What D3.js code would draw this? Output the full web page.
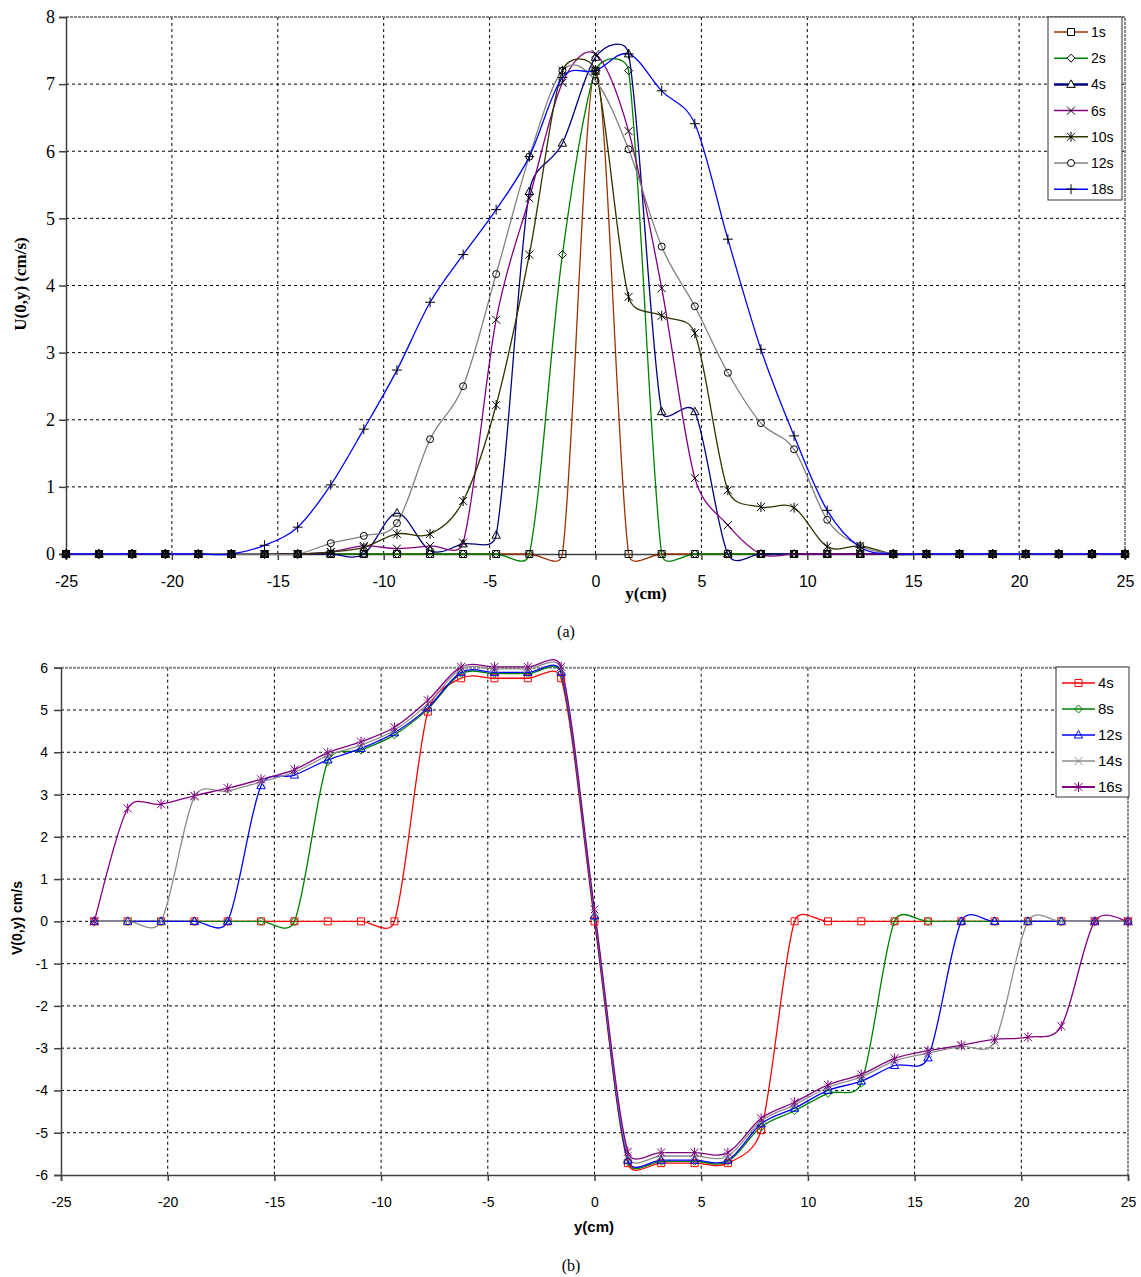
<!DOCTYPE html>
<html>
<head>
<meta charset="utf-8">
<title>U(0,y) and V(0,y) profiles</title>
<style>
body { margin: 0; background: #fff; }
.grid line { stroke: #000; stroke-width: 1; stroke-dasharray: 3,3; }
.frame { stroke: #888; stroke-width: 2; stroke-dasharray: 3,1; fill: none; }
.axis path, .axis line { stroke: #404040; stroke-width: 1.5; }
path.curve { fill: none; stroke-width: 1.3; }
</style>
</head>
<body>
<script src="https://d3js.org/d3.v7.min.js"></script>
<script>

// ---- panel (a): U(0,y) ----
var yCmA = [-25, -23.44, -21.875, -20.31, -18.75, -17.19, -15.625, -14.06, -12.5, -10.94,
            -9.375, -7.81, -6.25, -4.69, -3.125, -1.5625, 0, 1.5625, 3.125, 4.69, 6.25,
            7.81, 9.375, 10.94, 12.5, 14.06, 15.625, 17.19, 18.75, 20.31, 21.875, 23.44, 25];

var u1s  = [0,0,0,0,0,0,0,0,0,0, 0,0,0,0,0,0,7.2,0,0,0,0, 0,0,0,0,0,0,0,0,0,0,0,0];
var u2s  = [0,0,0,0,0,0,0,0,0,0, 0,0,0,0,0,4.46,7.2,7.2,0,0,0, 0,0,0,0,0,0,0,0,0,0,0,0];
var u4s  = [0,0,0,0,0,0,0,0,0,0, 0.61,0.05,0.15,0.28,5.40,6.12,7.4,7.45,2.12,2.12,0, 0,0,0,0,0,0,0,0,0,0,0,0];
var u6s  = [0,0,0,0,0,0,0,0,0.03,0.12, 0.08,0.12,0.17,3.49,5.30,7.02,7.45,6.30,3.96,1.13,0.43, 0,0,0,0,0,0,0,0,0,0,0,0];
var u10s = [0,0,0,0,0,0,0,0,0.03,0.10, 0.30,0.30,0.79,2.22,4.46,7.2,7.2,3.83,3.55,3.29,0.95, 0.70,0.69,0.11,0.12,0,0,0,0,0,0,0,0];
var u12s = [0,0,0,0,0,0,0,0,0.16,0.27, 0.46,1.71,2.50,4.17,5.92,7.2,7.05,6.03,4.58,3.69,2.70, 1.95,1.56,0.51,0.12,0,0,0,0,0,0,0,0];
var u18s = [0,0,0,0,0,0,0.13,0.40,1.03,1.86, 2.74,3.75,4.46,5.13,5.92,7.1,7.2,7.45,6.90,6.41,4.69, 3.05,1.76,0.65,0.10,0,0,0,0,0,0,0,0];

var namesA   = ["1s", "2s", "4s", "6s", "10s", "12s", "18s"];
var valuesA  = [u1s, u2s, u4s, u6s, u10s, u12s, u18s];
var colorsA  = ["#993300", "#008000", "#000080", "#800080", "#333300", "#808080", "#0000ff"];
var markersA = ["square", "diamond", "triangle", "x", "asterisk", "circle", "plus"];

// ---- panel (b): V(0,y) ----
var yCmB = [-23.44, -21.875, -20.31, -18.75, -17.19, -15.625, -14.06, -12.5, -10.94,
            -9.375, -7.81, -6.25, -4.69, -3.125, -1.5625, 0, 1.5625, 3.125, 4.69, 6.25,
            7.81, 9.375, 10.94, 12.5, 14.06, 15.625, 17.19, 18.75, 20.31, 21.875, 23.44, 25];

var v4s  = [0,0,0,0,0,0,0,0,0, 0,4.96,5.75,5.75,5.75,5.75,0, -5.72,-5.72,-5.72,-5.72,-4.94, 0,0,0,0,0,0,0,0,0,0,0];
var v8s  = [0,0,0,0,0,0,0,3.78,4.05, 4.41,5.02,5.86,5.86,5.86,5.86,0.10, -5.68,-5.68,-5.68,-5.68,-4.86, -4.48,-4.07,-3.83,0,0,0,0,0,0,0,0];
var v12s = [0,0,0,0,0,3.21,3.46,3.82,4.09, 4.46,5.05,5.89,5.89,5.89,5.89,0.13, -5.65,-5.65,-5.65,-5.65,-4.79, -4.42,-4.00,-3.78,-3.41,-3.23,0,0,0,0,0,0];
var v14s = [0,0,0,2.95,3.08,3.30,3.53,3.92,4.17, 4.52,5.15,5.97,5.97,5.97,5.97,0.20, -5.55,-5.55,-5.55,-5.55,-4.72, -4.34,-3.93,-3.68,-3.30,-3.12,-2.96,-2.85,0,0,0,0];
var v16s = [0,2.67,2.77,2.97,3.15,3.36,3.59,3.99,4.25, 4.59,5.23,6.02,6.02,6.02,6.02,0.28, -5.45,-5.47,-5.47,-5.47,-4.66, -4.28,-3.87,-3.62,-3.24,-3.06,-2.93,-2.79,-2.74,-2.48,0,0];

var namesB   = ["4s", "8s", "12s", "14s", "16s"];
var valuesB  = [v4s, v8s, v12s, v14s, v16s];
var colorsB  = ["#ff0000", "#008000", "#0000ff", "#8c8c8c", "#800080"];
var markersB = ["square", "diamond", "triangle", "x", "asterisk"];

var markerPaths = {
  square:   "M-3.5,-3.5H3.5V3.5H-3.5Z",
  diamond:  "M0,-4L4,0L0,4L-4,0Z",
  triangle: "M0,-4.5L4.2,3L-4.2,3Z",
  x:        "M-4,-4L4,4M-4,4L4,-4",
  asterisk: "M-4,-4L4,4M-4,4L4,-4M0,-5V5",
  circle:   "M3.5,0A3.5,3.5 0 1,1 -3.5,0A3.5,3.5 0 1,1 3.5,0",
  plus:     "M-5,0H5M0,-5V5"
};

var W = 1141, H = 1277;
var svg = d3.select("body").append("svg")
    .attr("width", W)
    .attr("height", H)
    .style("font-family", "'Liberation Sans', Arial, sans-serif");

// plain hyphen for negative tick labels, as in the original
var fmt = function(d) { return String(d); };

// spreadsheet-like smoothing: catmull-rom tangents, but the handles are
// capped to half of the segment so spikes don't swing far past the points
function smoothPath(pts) {
  var p = d3.path(), cap = 0.5;
  p.moveTo(pts[0][0], pts[0][1]);
  for (var i = 0; i < pts.length - 1; i++) {
    var p0 = pts[i - 1] || pts[i], p1 = pts[i], p2 = pts[i + 1], p3 = pts[i + 2] || pts[i + 1];
    var d12 = Math.hypot(p2[0] - p1[0], p2[1] - p1[1]);
    var t1 = [(p2[0] - p0[0]) / 6, (p2[1] - p0[1]) / 6];
    var t2 = [(p3[0] - p1[0]) / 6, (p3[1] - p1[1]) / 6];
    [t1, t2].forEach(function(t) {
      var len = Math.hypot(t[0], t[1]);
      if (len > cap * d12 && len > 0) { var k = cap * d12 / len; t[0] *= k; t[1] *= k; }
    });
    p.bezierCurveTo(p1[0] + t1[0], p1[1] + t1[1], p2[0] - t2[0], p2[1] - t2[1], p2[0], p2[1]);
  }
  return p.toString();
}

function drawPanel(cfg) {
  var x = d3.scaleLinear().domain([-25, 25]).range([cfg.left, cfg.right]);
  var y = d3.scaleLinear().domain(cfg.yDomain).range([cfg.bottom, cfg.top]);
  var g = svg.append("g");

  var yTicks = d3.range(cfg.yDomain[0], cfg.yDomain[1] + 1, 1);
  var xTicks = d3.range(-25, 26, 5);

  // grid
  var grid = g.append("g").attr("class", "grid");
  grid.selectAll("line.h")
    .data(yTicks.filter(function(d) { return d > cfg.yDomain[0] && d < cfg.yDomain[1] && d !== cfg.xAxisAt; }))
    .enter().append("line")
      .attr("x1", cfg.left).attr("x2", cfg.right)
      .attr("y1", function(d) { return y(d); }).attr("y2", function(d) { return y(d); });
  grid.selectAll("line.v")
    .data(xTicks.filter(function(d) { return d > -25 && d < 25; }))
    .enter().append("line")
      .attr("y1", cfg.top).attr("y2", cfg.bottom)
      .attr("x1", function(d) { return x(d); }).attr("x2", function(d) { return x(d); });

  // gray frame on top and right
  g.append("path").attr("class", "frame")
    .attr("d", "M" + cfg.left + "," + cfg.top + "H" + cfg.right + "V" + cfg.bottom);

  // left axis
  var yAxis = g.append("g").attr("class", "axis")
    .attr("transform", "translate(" + cfg.left + ",0)")
    .call(d3.axisLeft(y).tickValues(yTicks).tickSize(7).tickPadding(cfg.yPad).tickFormat(fmt));
  yAxis.selectAll("text")
    .style("font-family", cfg.yFont).style("font-size", cfg.yFontSize + "px").attr("fill", "#000");

  // x axis (at y = xAxisAt)
  var xAxis = g.append("g").attr("class", "axis")
    .attr("transform", "translate(0," + y(cfg.xAxisAt) + ")")
    .call(d3.axisBottom(x).tickValues(xTicks).tickSize(6).tickPadding(cfg.xPad).tickFormat(fmt));
  xAxis.selectAll("text")
    .style("font-family", "'Liberation Sans', Arial, sans-serif")
    .style("font-size", cfg.xFontSize + "px").attr("fill", "#000");

  // series
  cfg.values.forEach(function(vals, i) {
    var pts = vals.map(function(v, j) { return [x(cfg.xs[j]), y(v)]; });
    g.append("path").attr("class", "curve")
      .attr("d", smoothPath(pts))
      .attr("stroke", cfg.colors[i]);
  });
  cfg.values.forEach(function(vals, i) {
    var pts = vals.map(function(v, j) { return [cfg.xs[j], v]; });
    g.append("g").selectAll("path")
      .data(pts).enter().append("path")
        .attr("d", markerPaths[cfg.markers[i]])
        .attr("transform", function(d) { return "translate(" + x(d[0]) + "," + y(d[1]) + ")"; })
        .attr("fill", "none")
        .attr("stroke", cfg.markerColor || cfg.colors[i])
        .attr("stroke-width", 1);
  });

  // legend
  var lg = g.append("g");
  lg.append("rect")
    .attr("x", cfg.legend.x).attr("y", cfg.legend.y)
    .attr("width", cfg.legend.w).attr("height", cfg.legend.h)
    .attr("fill", "#fff").attr("stroke", "#333").attr("stroke-width", 1);
  cfg.names.forEach(function(name, i) {
    var ry = cfg.legend.y + cfg.legend.first + i * cfg.legend.step;
    var lx0 = cfg.legend.x + 6, lx1 = lx0 + cfg.legend.lineLen;
    lg.append("line")
      .attr("x1", lx0).attr("x2", lx1).attr("y1", ry).attr("y2", ry)
      .attr("stroke", cfg.colors[i]).attr("stroke-width", cfg.legend.lineW[i] || 1.5);
    lg.append("path")
      .attr("d", markerPaths[cfg.markers[i]])
      .attr("transform", "translate(" + ((lx0 + lx1) / 2) + "," + ry + ")")
      .attr("fill", cfg.markerColor ? "#fff" : "none")
      .attr("stroke", cfg.markerColor || cfg.colors[i]);
    lg.append("text")
      .attr("x", lx1 + 3).attr("y", ry + 5)
      .style("font-size", cfg.legend.font + "px")
      .text(name);
  });

  return { x: x, y: y };
}

var pa = drawPanel({
  left: 66, right: 1125, top: 17, bottom: 554,
  yDomain: [0, 8], xAxisAt: 0,
  yFont: "'Liberation Serif', 'Times New Roman', serif", yFontSize: 18, yPad: 4,
  xFontSize: 16, xPad: 16,
  xs: yCmA, values: valuesA, names: namesA, colors: colorsA, markers: markersA,
  markerColor: "#000",
  legend: { x: 1048, y: 17, w: 74, h: 183, first: 15, step: 26.2, lineLen: 34, font: 14,
            lineW: [1.5, 1.5, 2.5, 1.5, 1.5, 1.5, 1.5] }
});

svg.append("text")
  .attr("transform", "translate(26,284) rotate(-90)")
  .attr("text-anchor", "middle")
  .style("font-family", "'Liberation Serif', 'Times New Roman', serif")
  .style("font-weight", "bold").style("font-size", "17px")
  .text("U(0,y) (cm/s)");

svg.append("text")
  .attr("x", 646).attr("y", 599)
  .attr("text-anchor", "middle")
  .style("font-family", "'Liberation Serif', 'Times New Roman', serif")
  .style("font-weight", "bold").style("font-size", "17px")
  .text("y(cm)");

svg.append("text")
  .attr("x", 566).attr("y", 637)
  .attr("text-anchor", "middle")
  .style("font-family", "'Liberation Serif', 'Times New Roman', serif")
  .style("font-size", "16px")
  .text("(a)");

var pb = drawPanel({
  left: 61, right: 1128, top: 667.7, bottom: 1175,
  yDomain: [-6, 6], xAxisAt: -6,
  yFont: "'Liberation Sans', Arial, sans-serif", yFontSize: 14, yPad: 6,
  xFontSize: 14, xPad: 16,
  xs: yCmB, values: valuesB, names: namesB, colors: colorsB, markers: markersB,
  legend: { x: 1056, y: 667, w: 73, h: 130, first: 16, step: 26, lineLen: 33, font: 15,
            lineW: [1.5, 1.5, 1.5, 1.5, 2] }
});

svg.append("text")
  .attr("transform", "translate(22,918) rotate(-90)")
  .attr("text-anchor", "middle")
  .style("font-weight", "bold").style("font-size", "14px")
  .text("V(0,y) cm/s");

svg.append("text")
  .attr("x", 594).attr("y", 1232)
  .attr("text-anchor", "middle")
  .style("font-weight", "bold").style("font-size", "15px")
  .text("y(cm)");

svg.append("text")
  .attr("x", 571).attr("y", 1271)
  .attr("text-anchor", "middle")
  .style("font-family", "'Liberation Serif', 'Times New Roman', serif")
  .style("font-size", "16px")
  .text("(b)");

</script>
</body>
</html>
